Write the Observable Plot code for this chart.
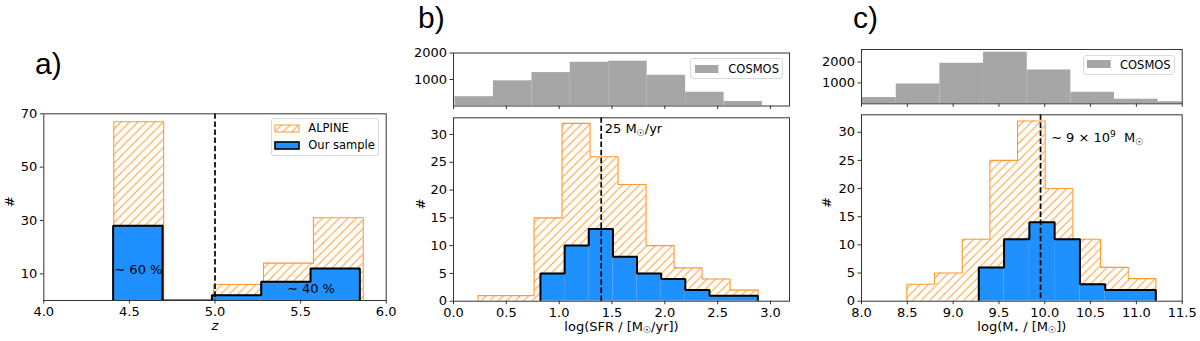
<!DOCTYPE html>
<html><head><meta charset="utf-8">
<script src="https://cdn.jsdelivr.net/npm/d3@7"></script>
<script src="https://cdn.jsdelivr.net/npm/@observablehq/plot@0.6"></script>
<style>
body{margin:0;background:#fff;}
#root{position:relative;width:1200px;height:341px;overflow:hidden;font-family:"DejaVu Sans",sans-serif;color:#000;background:#fff;}
.box{position:absolute;background:#fff;border:1px solid #d9d9d9;border-radius:3px;box-sizing:border-box;}
.lt{position:absolute;font:11.5px "DejaVu Sans",sans-serif;line-height:14px;white-space:nowrap;}
.patch{position:absolute;}
</style></head><body>
<svg width="0" height="0" style="position:absolute">
<defs>
<pattern id="hatch" patternUnits="userSpaceOnUse" width="8.5" height="8.5">
<path d="M-1,1 L1,-1 M0,8.5 L8.5,0 M7.5,9.5 L9.5,7.5" stroke="#ff9a2e" stroke-width="1"/>
</pattern></defs></svg>
<div id="root"></div>
<script>
// ---------- data ----------
// panel a: redshift
const alpineZEdges  = [4.409, 4.700, 4.992, 5.283, 5.575, 5.866];
const alpineZCounts = [67, 0, 6, 14, 31];
const sampleZEdges  = [4.405, 4.694, 4.982, 5.270, 5.558, 5.846];
const sampleZCounts = [28, 0, 2, 7, 12];
const zSplit = 5.0;
const zTicksX = [4.0, 4.5, 5.0, 5.5, 6.0];
const zTicksY = [10, 30, 50, 70];
const zNotes = [{x: 4.412, y: 11.6, text: "∼ 60 %"}, {x: 5.42, y: 4.4, text: "∼ 40 %"}];

// panel b: SFR
const cosmosSfrEdges  = [0.014, 0.378, 0.742, 1.105, 1.469, 1.833, 2.197, 2.561, 2.924];
const cosmosSfrCounts = [350, 950, 1260, 1650, 1690, 1160, 520, 170];
const alpineSfrEdges  = [0.233, 0.498, 0.763, 1.028, 1.293, 1.558, 1.823, 2.088, 2.353, 2.618, 2.883];
const alpineSfrCounts = [1, 1, 15, 32, 26, 21, 10, 6, 4, 2];
const sampleSfrEdges  = [0.823, 1.052, 1.280, 1.509, 1.737, 1.966, 2.194, 2.423, 2.651, 2.880];
const sampleSfrCounts = [5, 10, 13, 8, 5, 4, 2, 1, 1];
const sfrMedian = 1.398;
const sfrTicksX = [0, 0.5, 1.0, 1.5, 2.0, 2.5, 3.0];
const countTicksY = [0, 5, 10, 15, 20, 25, 30];
const cosmosTicksY = [1000, 2000];
const sfrNote = [{x: 1.398, y: 31.0, text: "25 M_{☉}/yr"}];

// panel c: stellar mass
const cosmosMassEdges  = [7.90, 8.379, 8.855, 9.332, 9.809, 10.285, 10.762, 11.238, 11.715];
const cosmosMassCounts = [300, 950, 1940, 2470, 1620, 550, 220, 100];
const alpineMassEdges  = [8.495, 8.797, 9.099, 9.401, 9.703, 10.005, 10.307, 10.609, 10.911, 11.213];
const alpineMassCounts = [3, 5, 11, 25, 32, 20, 11, 6, 4];
const sampleMassEdges  = [9.280, 9.556, 9.832, 10.108, 10.384, 10.660, 10.936, 11.212];
const sampleMassCounts = [6, 11, 14, 11, 3, 2, 2];
const massMedian = 9.954;
const massTicksX = [8.0, 8.5, 9.0, 9.5, 10.0, 10.5, 11.0, 11.5];
const massNote = [{x: 9.954, y: 29.0, text: "∼ 9 × 10^{9}  M_{☉}"}];

// ---------- styles ----------
const ORANGE = "#ff9a2e", BLUE = "#1e90ff", GRAY = "#a6a6a6", AXIS = "#333";
const root = document.getElementById("root");

function bins(edges, counts) { return counts.map((c, i) => ({x1: edges[i], x2: edges[i + 1], y: c})); }
function outline(edges, counts) {
  const p = [{x: edges[0], y: 0}];
  counts.forEach((c, i) => { p.push({x: edges[i], y: c}, {x: edges[i + 1], y: c}); });
  p.push({x: edges[edges.length - 1], y: 0});
  return p;
}
function richify(svg) {
  d3.select(svg).selectAll("text").each(function () {
    const s = this.textContent;
    if (!/[_^]\{/.test(s)) return;
    const fs = parseFloat(getComputedStyle(this).fontSize) || 13;
    const el = d3.select(this).text(null).style("white-space", "pre");
    const re = /([_^])\{([^}]*)\}/g;
    let last = 0, off = 0, m;
    const add = (txt, target, size) => {
      if (!txt) return;
      const t = el.append("tspan").text(txt);
      if (target - off !== 0) t.attr("dy", target - off);
      if (size) t.attr("font-size", size);
      off = target;
    };
    while ((m = re.exec(s))) {
      add(s.slice(last, m.index), 0);
      add(m[2], m[1] === "_" ? 0.22 * fs : -0.42 * fs, 0.7 * fs);
      last = re.lastIndex;
    }
    add(s.slice(last), 0);
  });
}
function place(svg, left, top) {
  svg.style.position = "absolute";
  svg.style.left = left + "px";
  svg.style.top = top + "px";
  root.appendChild(svg);
  richify(svg);
}
const svgStyle = {fontFamily: '"DejaVu Sans", sans-serif', fontSize: "13px", color: "#000", background: "transparent", overflow: "visible"};

function mainPanel(o) {
  return Plot.plot({
    width: o.width, height: o.height,
    marginLeft: o.m[0], marginRight: o.m[1], marginTop: o.m[2], marginBottom: o.m[3],
    style: svgStyle,
    x: {domain: o.xDomain},
    y: {domain: o.yDomain},
    marks: [
      Plot.rectY(bins(o.aE, o.aC), {x1: "x1", x2: "x2", y: "y", fill: "url(#hatch)", clip: true}),
      Plot.line(outline(o.aE, o.aC), {x: "x", y: "y", stroke: ORANGE, strokeWidth: 1.1, clip: true}),
      Plot.rectY(bins(o.sE, o.sC), {x1: "x1", x2: "x2", y: "y", fill: BLUE, clip: true}),
      Plot.line(outline(o.sE, o.sC), {x: "x", y: "y", stroke: "#000", strokeWidth: 2, strokeLinejoin: "miter", clip: true}),
      Plot.ruleX([o.vline], {stroke: "#000", strokeWidth: 1.7, strokeDasharray: "5.5,2.6"}),
      Plot.text(o.notes, {x: "x", y: "y", text: "text", textAnchor: "start", dx: o.noteDx, fontSize: 13}),
      Plot.frame({stroke: AXIS, strokeWidth: 1}),
      Plot.axisX({ticks: o.xTicks, tickFormat: d3.format(".1f"), tickSize: 3.5, tickPadding: 3, stroke: AXIS, label: null}),
      Plot.axisY({ticks: o.yTicks, tickFormat: d3.format("d"), tickSize: 3.5, tickPadding: 3, stroke: AXIS, label: null}),
      Plot.text(["#"], {frameAnchor: "left", dx: o.yLabelDx, rotate: -90, fontSize: 13}),
      Plot.text([o.xLabel], {frameAnchor: "bottom", dy: o.xLabelDy, fontSize: 13, fontStyle: o.italic ? "italic" : "normal"})
    ]
  });
}
function topPanel(o) {
  return Plot.plot({
    width: o.width, height: o.height,
    marginLeft: o.m[0], marginRight: o.m[1], marginTop: o.m[2], marginBottom: o.m[3],
    style: svgStyle,
    x: {domain: o.xDomain},
    y: {domain: o.yDomain},
    marks: [
      Plot.rectY(bins(o.cE, o.cC), {x1: "x1", x2: "x2", y: "y", fill: GRAY, clip: true}),
      Plot.frame({stroke: AXIS, strokeWidth: 1}),
      Plot.axisX({ticks: o.xTicks, tickFormat: () => "", tickSize: 3.5, stroke: AXIS, label: null}),
      Plot.axisY({ticks: cosmosTicksY, tickFormat: d3.format("d"), tickSize: 3.5, tickPadding: 3, stroke: AXIS, label: null})
    ]
  });
}

// panel a
place(mainPanel({width: 400, height: 251, m: [43.3, 14.3, 23.3, 41],
  xDomain: [4, 6], yDomain: [0, 70], xTicks: zTicksX, yTicks: zTicksY,
  aE: alpineZEdges, aC: alpineZCounts, sE: sampleZEdges, sC: sampleZCounts,
  vline: zSplit, notes: zNotes, noteDx: 0, yLabelDx: -34.3, xLabel: "z", xLabelDy: 29.5, italic: true}), 0, 90);

// panel b
place(topPanel({width: 400, height: 72, m: [53, 11, 12.5, 6.5], xDomain: [0, 3.18], yDomain: [0, 2000],
  xTicks: sfrTicksX, cE: cosmosSfrEdges, cC: cosmosSfrCounts}), 400, 40);
place(mainPanel({width: 400, height: 231, m: [53, 11, 7.3, 40.3],
  xDomain: [0, 3.18], yDomain: [0, 33], xTicks: sfrTicksX, yTicks: countTicksY,
  aE: alpineSfrEdges, aC: alpineSfrCounts, sE: sampleSfrEdges, sC: sampleSfrCounts,
  vline: sfrMedian, notes: sfrNote, noteDx: 3.5, yLabelDx: -32.3, xLabel: "log(SFR / [M_{☉}/yr])", xLabelDy: 29.3}), 400, 110);

// panel c
place(topPanel({width: 400, height: 72, m: [61, 18.3, 12, 5.7], xDomain: [8, 11.5], yDomain: [0, 2600],
  xTicks: massTicksX, cE: cosmosMassEdges, cC: cosmosMassCounts}), 800, 37);
place(mainPanel({width: 400, height: 234, m: [61, 18.3, 7.3, 40.3],
  xDomain: [8, 11.5], yDomain: [0, 33.1], xTicks: massTicksX, yTicks: countTicksY,
  aE: alpineMassEdges, aC: alpineMassCounts, sE: sampleMassEdges, sC: sampleMassCounts,
  vline: massMedian, notes: massNote, noteDx: 10.5, yLabelDx: -34.3, xLabel: "log(M_{⋆} / [M_{☉}])", xLabelDy: 29.3}), 800, 107);

// legends
function legendBox(l, t, w, h) { const d = document.createElement("div"); d.className = "box"; Object.assign(d.style, {left: l + "px", top: t + "px", width: w + "px", height: h + "px"}); root.appendChild(d); }
function legendText(txt, l, cy) { const d = document.createElement("div"); d.className = "lt"; d.textContent = txt; Object.assign(d.style, {left: l + "px", top: (cy - 7) + "px"}); root.appendChild(d); }
function legendPatch(l, t, w, h, fill, stroke, sw) {
  const s = d3.create("svg").attr("class", "patch").attr("width", w + 2).attr("height", h + 2)
    .style("left", (l - 1) + "px").style("top", (t - 1) + "px");
  s.append("rect").attr("x", 1).attr("y", 1).attr("width", w).attr("height", h)
    .attr("fill", fill).attr("stroke", stroke).attr("stroke-width", sw);
  root.appendChild(s.node());
}
legendBox(270.7, 118.3, 108.6, 37.7);
legendPatch(275, 124.5, 24, 7, "url(#hatch)", ORANGE, 1);
legendText("ALPINE", 308.3, 127.7);
legendPatch(275, 141.5, 24, 7, BLUE, "#000", 1.6);
legendText("Our sample", 308.3, 145.3);

legendBox(690.3, 58.3, 92.4, 21);
legendPatch(695, 64.5, 23.3, 8, GRAY, "none", 0);
legendText("COSMOS", 728.3, 68.6);

legendBox(1082.7, 55, 92.3, 20.3);
legendPatch(1087, 60.3, 23.7, 8, GRAY, "none", 0);
legendText("COSMOS", 1120, 64.6);

// panel letters
const over = d3.create("svg").attr("width", 1200).attr("height", 341)
  .style("position", "absolute").style("left", "0px").style("top", "0px").style("pointer-events", "none");
over.selectAll("text").data([{t: "a)", x: 35, y: 74}, {t: "b)", x: 418, y: 28}, {t: "c)", x: 853, y: 28}])
  .join("text").attr("x", d => d.x).attr("y", d => d.y).text(d => d.t)
  .attr("font-family", '"Liberation Sans", Arial, sans-serif').attr("font-size", 30).attr("fill", "#000");
root.appendChild(over.node());
</script>
</body></html>
